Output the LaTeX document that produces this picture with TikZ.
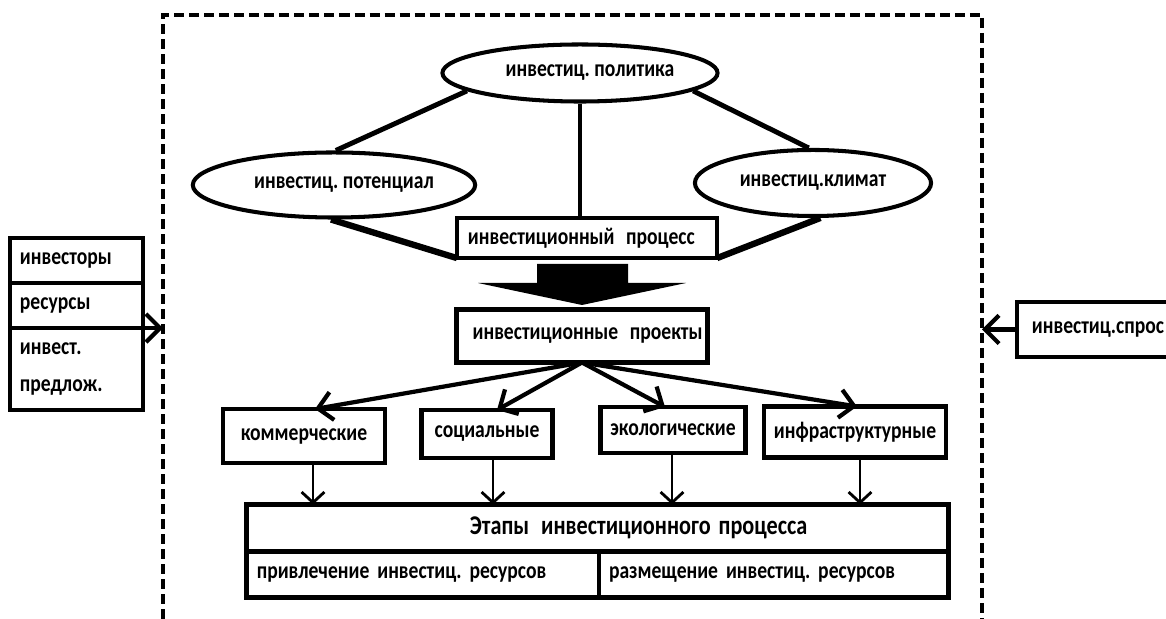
\documentclass[tikz,border=0pt]{standalone}
\usepackage{fontspec}
\setmainfont[FakeStretch=0.82]{Carlito}
\usetikzlibrary{arrows.meta, positioning, shapes.geometric, calc}

\begin{document}
\begin{tikzpicture}[x=0.01cm, y=-0.01cm, node distance=0cm,
    >={Straight Barb[length=4pt, width=8pt]},
    lbl/.style={font=\bfseries\fontsize{6.8}{8.5}\selectfont\frenchspacing},
    box/.style={draw, line width=1.35pt, lbl, inner sep=0.1cm, outer sep=0pt},
    cell/.style={box, align=left},
    oval/.style={draw, ellipse, line width=1.15pt, lbl, inner sep=0pt},
    link/.style={line width=1.4pt},
    wide link/.style={line width=1.8pt},
    arr/.style={->, line width=1.2pt},
    down arr/.style={-{Straight Barb[length=3pt, width=6.5pt]}, line width=0.8pt},
    frame/.style={line width=1pt, dash pattern=on 0.1cm off 0.05cm}]
  \useasboundingbox (0,0) rectangle (1166,619);

  % outer frame
  \coordinate (frameL) at (163,15);
  \coordinate (frameR) at (982,15);
  \draw[frame] (163,619) -- (frameL) -- (frameR) -- (982,619);

  % ovals and process
  \node[oval, minimum width=2.75cm, minimum height=0.57cm] (politika) at (580,73) {\hspace*{0.2cm}инвестиц. политика};
  \node[oval, minimum width=2.62cm, minimum height=0.65cm] (potencial) at (334,185) {\hspace*{0.2cm}инвестиц. потенциал};
  \node[oval, minimum width=2.36cm, minimum height=0.66cm] (klimat) at (813,183) {инвестиц.климат};
  \node[cell, minimum width=2.60cm, minimum height=0.39cm, text width=2.38cm] (process) at (587,238) {инвестиционный \hspace{0.15em}процесс};

  \draw[link] (politika.189) -- (potencial.87);
  \draw[link] (politika.351) -- (klimat.97);
  \draw[line width=1pt] (politika.south) -- (politika.south |- process.north);
  \draw[wide link] (potencial.265) -- (process.south west);
  \draw[wide link] (klimat.-78) -- (process.south east);

  % block arrow
  \fill (537,264) -- (628,264) -- (628,283) -- (686,283) -- (582,305)
        -- (478,283) -- (537,283) -- cycle;

  \node[cell, align=right, minimum width=2.51cm, minimum height=0.53cm, text width=2.41cm,
        inner xsep=0.05cm] (proekty) at (582,336) {инвестиционные \hspace{0.15em}проекты};

  % kinds of projects
  \node[box, minimum width=1.62cm, minimum height=0.54cm] (kommerch) at (304,436) {коммерческие};
  \node[box, minimum width=1.31cm, minimum height=0.48cm] (social) at (487,434) {социальные};
  \node[box, minimum width=1.40cm, minimum height=0.46cm] (ekolog) at (673,430) {экологические};
  \node[box, minimum width=1.75cm, minimum height=0.51cm] (infra) at (855,432) {инфраструктурные};

  \draw[arr] (proekty.south) -- ([xshift=0.11cm]kommerch.north);
  \draw[arr] (proekty.south) -- ([xshift=0.1cm]social.north);
  \draw[arr] (proekty.south) -- ([xshift=-0.08cm]ekolog.north);
  \draw[arr] (proekty.south) -- ([xshift=0.02cm]infra.north);

  % stages table
  \node[cell, minimum width=7.01cm, minimum height=0.47cm, text width=6.81cm] (etapy) at (597.5,528)
    {\hspace*{2.13cm}{\fontsize{7.7}{9}\selectfont Этапы \hspace{0.15em}инвестиционного процесса}};
  \node[cell, minimum width=3.52cm, minimum height=0.46cm, text width=3.32cm,
        below right=0cm and 0cm of etapy.south west, anchor=north west] (privl)
    {привлечение инвестиц. ресурсов};
  \node[cell, minimum width=3.49cm, minimum height=0.46cm, text width=3.29cm,
        right=0cm of privl] (razm) {размещение инвестиц. ресурсов};

  \foreach \n/\x in {kommerch/313, social/493, ekolog/672, infra/860}
    \draw[down arr] (\x,0 |- \n.south) -- (\x,0 |- etapy.north);

  % outside: supply and demand
  \node[cell, minimum width=1.33cm, minimum height=0.45cm, text width=1.13cm] (investory) at (76.5,260.5) {инвесторы};
  \node[cell, minimum width=1.33cm, minimum height=0.45cm, text width=1.13cm, below=0cm of investory] (resursy) {ресурсы};
  \node[cell, minimum width=1.33cm, minimum height=0.82cm, text width=1.13cm, below=0cm of resursy] (predlozh) {инвест.\\[2pt]предлож.};
  \node[cell, minimum width=1.6cm, minimum height=0.55cm, text width=1.3cm, inner xsep=0.15cm] (spros) at (1097,329.5) {инвестиц.спрос};

  \draw[arr] (resursy.south east) -- (resursy.south east -| frameL);
  \draw[arr] (spros.west) -- (spros.west -| frameR);
\end{tikzpicture}
\end{document}
